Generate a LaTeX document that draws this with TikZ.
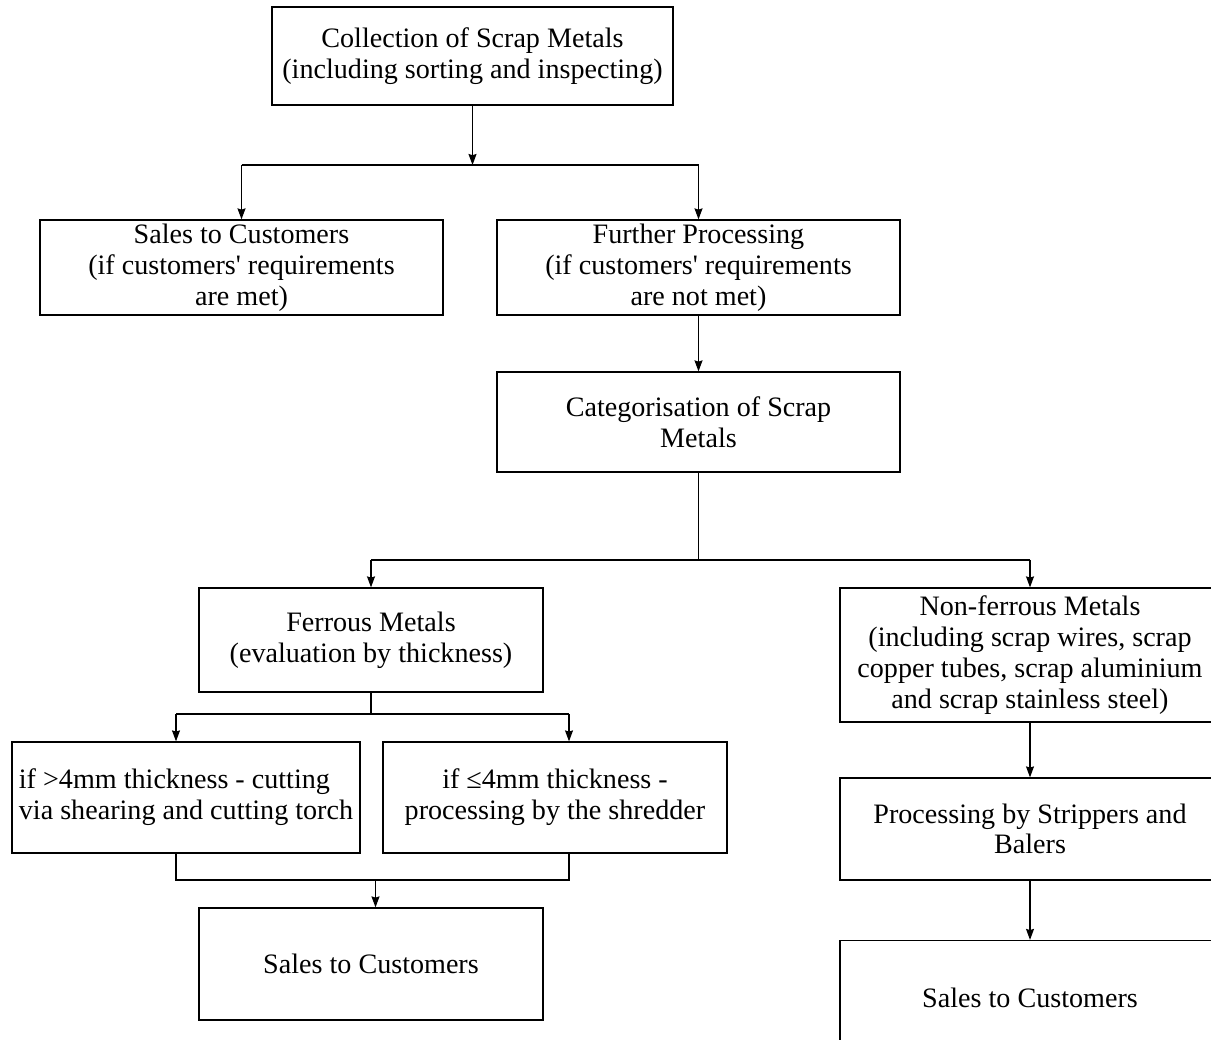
\documentclass[tikz,border=0pt]{standalone}
\usepackage{fontspec}
\setmainfont{Liberation Serif}[Ligatures=TeXOff]
\usepackage{tikz}
\usetikzlibrary{shapes,positioning,arrows.meta}
\tikzset{bx/.style={rectangle,draw,line width=0.7pt,align=center,inner sep=0pt,font=\fontsize{16}{17.5}\selectfont}}

\begin{document}
\begin{tikzpicture}[>={Stealth[length=2.2mm,width=1.6mm,inset=0.25mm]},line width=0.7pt]
    \useasboundingbox (0,0) rectangle (24.22,20.78);
    \clip (0,0) rectangle (24.22,20.78);

    \node[bx,minimum width=8.02cm,minimum height=1.96cm] (coll)at (9.45,19.66) {Collection of Scrap Metals\\(including sorting and inspecting)};
    \node[bx,minimum width=8.06cm,minimum height=1.9cm] (salesA)at (4.83,15.43) {Sales to Customers\\(if customers' requirements\\are met)};
    \node[bx,minimum width=8.06cm,minimum height=1.9cm] (further)at (13.97,15.43) {Further Processing\\(if customers' requirements\\are not met)};
    \node[bx,minimum width=8.06cm,minimum height=2cm] (categ)at (13.97,12.34) {Categorisation of Scrap\\Metals};
    \node[bx,minimum width=6.88cm,minimum height=2.08cm] (ferrous)at (7.42,7.98) {Ferrous Metals\\(evaluation by thickness)};
    \node[bx,minimum width=7.6cm,minimum height=2.68cm] (nonferrous)at (20.6,7.68) {Non-ferrous Metals\\(including scrap wires, scrap\\copper tubes, scrap aluminium\\and scrap stainless steel)};
    \node[bx,minimum width=6.96cm,minimum height=2.22cm,align=left] (thick)at (3.72,4.83) {if >4mm thickness - cutting\\via shearing and cutting torch};
    \node[bx,minimum width=6.88cm,minimum height=2.22cm] (thin)at (11.1,4.83) {if ≤4mm thickness -\\processing by the shredder};
    \node[bx,minimum width=6.88cm,minimum height=2.24cm] (salesB)at (7.42,1.5) {Sales to Customers};
    \node[bx,minimum width=7.6cm,minimum height=2.04cm] (strip)at (20.6,4.2) {Processing by Strippers and\\Balers};
    \node[bx,minimum width=7.6cm,minimum height=2.3cm] (salesC)at (20.6,0.82) {Sales to Customers};

    \coordinate (j1) at (9.45,17.48);
    \coordinate (j2) at (13.97,9.58);
    \coordinate (j2l) at (7.42,9.58);
    \coordinate (j2r) at (20.6,9.58);
    \coordinate (j3) at (7.42,6.5);
    \coordinate (j3l) at (3.52,6.5);
    \coordinate (j3r) at (11.38,6.5);
    \coordinate (j4) at (7.51,3.18);
    \coordinate (j4l) at (3.52,3.18);
    \coordinate (j4r) at (11.38,3.18);

    \draw [->] (coll.south) to (j1);
    \draw [] (salesA.north |- j1) to (further.north |- j1);
    \draw [->] (salesA.north |- j1) to (salesA.north);
    \draw [->] (further.north |- j1) to (further.north);
    \draw [->] (further) to (categ);
    \draw [] (categ.south) to (j2);
    \draw [] (j2l) to (j2r);
    \draw [->] (j2l) to (ferrous.north);
    \draw [->] (j2r) to (nonferrous.north);
    \draw [] (ferrous.south) to (j3);
    \draw [] (j3l) to (j3r);
    \draw [->] (j3l) to (j3l |- thick.north);
    \draw [->] (j3r) to (j3r |- thin.north);
    \draw [] (j4l |- thick.south) to (j4l) to (j4r) to (j4r |- thin.south);
    \draw [->] (j4) to (j4 |- salesB.north);
    \draw [->] (nonferrous) to (strip);
    \draw [->] (strip) to (salesC);
\end{tikzpicture}
\end{document}
